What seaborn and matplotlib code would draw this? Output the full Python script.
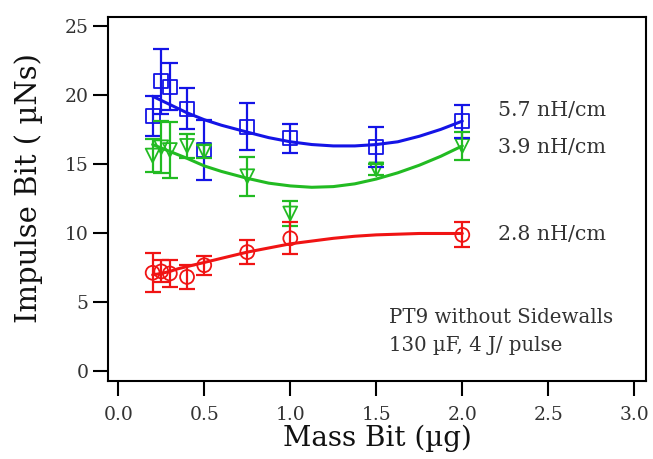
import matplotlib
matplotlib.use("Agg")
import matplotlib.pyplot as plt
import seaborn as sns
import pandas as pd

# measured points (mass bit in ug, impulse bit in uNs)
mass_57 = [0.2, 0.25, 0.3, 0.4, 0.5, 0.75, 1.0, 1.5, 2.0]
imp_57 = [18.45, 21.0, 20.6, 19.0, 16.0, 17.7, 16.85, 16.25, 18.1]
err_57 = [1.45, 2.35, 1.7, 1.5, 2.15, 1.7, 1.05, 1.45, 1.2]

mass_39 = [0.2, 0.25, 0.3, 0.4, 0.5, 0.75, 1.0, 1.5, 2.0]
imp_39 = [15.6, 16.2, 16.0, 16.3, 15.9, 14.1, 11.4, 14.6, 16.3]
err_39 = [1.2, 1.9, 2.0, 0.9, 0.5, 1.4, 0.9, 0.4, 1.0]

mass_28 = [0.2, 0.25, 0.3, 0.4, 0.5, 0.75, 1.0, 2.0]
imp_28 = [7.1, 7.2, 7.05, 6.8, 7.65, 8.6, 9.6, 9.85]
err_28 = [1.4, 0.8, 1.0, 0.9, 0.7, 0.85, 1.15, 0.9]

# fitted curves
fit_x = [0.2, 0.25, 0.3, 0.35, 0.4, 0.5, 0.6, 0.75, 0.875, 1.0,
         1.125, 1.25, 1.375, 1.5, 1.625, 1.75, 1.875, 2.0]
fit_57 = [19.9, 19.6, 19.3, 19.0, 18.7, 18.2, 17.8, 17.3, 16.9, 16.6,
          16.4, 16.3, 16.3, 16.4, 16.6, 17.0, 17.5, 18.1]
fit_39 = [16.4, 16.15, 15.9, 15.65, 15.4, 14.85, 14.45, 13.95, 13.6, 13.4,
          13.3, 13.35, 13.55, 13.9, 14.35, 14.9, 15.55, 16.3]
fit_28 = [6.95, 7.05, 7.2, 7.4, 7.55, 7.85, 8.15, 8.6, 8.9, 9.2,
          9.4, 9.6, 9.75, 9.85, 9.9, 9.95, 9.95, 9.95]

labels = ["5.7 nH/cm", "3.9 nH/cm", "2.8 nH/cm"]
label_y = [18.9, 16.2, 9.9]

sns.set_style("ticks")
plt.rcParams['font.family'] = ['DejaVu Serif']

fig = plt.figure(figsize=(6.53, 4.59), dpi=100)
ax = fig.add_axes([0.1658, 0.1706, 0.8230, 0.7930])

series = [
    (mass_57, imp_57, err_57, fit_57, '#1414e6', 's'),
    (mass_39, imp_39, err_39, fit_39, '#22bb22', 'v'),
    (mass_28, imp_28, err_28, fit_28, '#f01414', 'o'),
]

for (mx, my, me, fy, col, mk), lab, ly in zip(series, labels, label_y):
    fit_df = pd.DataFrame({'x': fit_x, 'y': fy})
    sns.lineplot(data=fit_df, x='x', y='y', color=col, lw=2.2, ax=ax)
    ax.errorbar(mx, my, yerr=me, fmt='none', ecolor=col, elinewidth=1.6,
                capsize=5.5, capthick=1.6)
    pts = pd.DataFrame({'x': mx, 'y': my})
    sns.scatterplot(data=pts, x='x', y='y', marker=mk, s=100,
                    facecolors='none', edgecolor=col, linewidth=1.3, ax=ax)
    ax.text(2.21, ly, lab, fontsize=14.8, color='#333333', va='center')

ax.text(1.575, 3.85, "PT9 without Sidewalls", fontsize=14.2, color='#333333', va='center')
ax.text(1.575, 1.85, "130 \u00b5F, 4 J/ pulse", fontsize=14.2, color='#333333', va='center')

ax.set_xlim(-0.058, 3.066)
ax.set_ylim(-0.725, 25.67)
ax.set_xticks([0.0, 0.5, 1.0, 1.5, 2.0, 2.5, 3.0])
ax.set_xticklabels(['0.0', '0.5', '1.0', '1.5', '2.0', '2.5', '3.0'])
ax.set_yticks([0, 5, 10, 15, 20, 25])

for s in ax.spines.values():
    s.set_linewidth(1.5)
    s.set_color('black')
ax.tick_params(axis='both', length=11, width=1.5, color='black',
               labelsize=13.5, labelcolor='#333333')
ax.tick_params(axis='x', pad=7)
ax.tick_params(axis='y', pad=3)

ax.set_xlabel("Mass Bit (\u00b5g)", fontsize=20, color='#111111', labelpad=1)
ax.set_ylabel("Impulse Bit ( \u00b5Ns)", fontsize=21, color='#111111')
ax.yaxis.set_label_coords(-0.122, 0.53)

fig.savefig("out.png", dpi=100)
